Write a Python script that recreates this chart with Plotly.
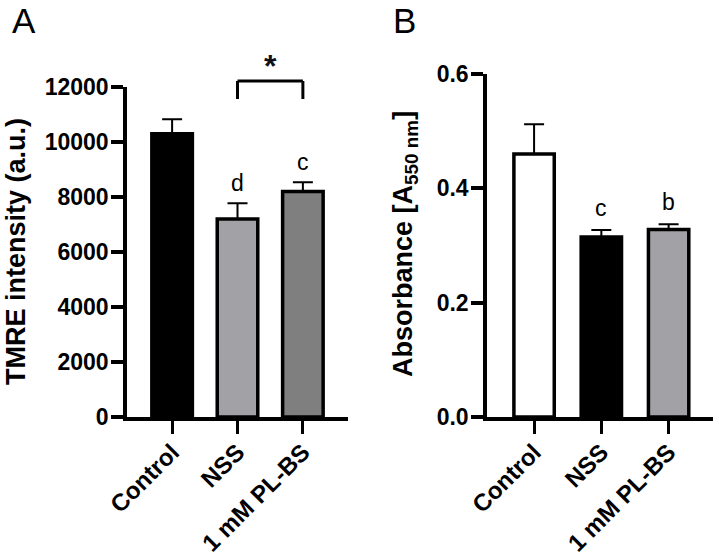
import plotly.graph_objects as go

# ---------------- data ----------------
categories = ["Control", "NSS", "1 mM PL-BS"]

tmre_values = [10300, 7200, 8200]
tmre_errors = [530, 570, 340]
tmre_letters = ["", "d", "c"]
tmre_colors = ["#000000", "#a2a2a6", "#7f7f7f"]
tmre_ticks = [0, 2000, 4000, 6000, 8000, 10000, 12000]

abs_values = [0.46, 0.315, 0.328]
abs_errors = [0.052, 0.012, 0.009]
abs_letters = ["", "c", "b"]
abs_colors = ["#ffffff", "#000000", "#a2a2a6"]
abs_ticks = [0.0, 0.2, 0.4, 0.6]

bracket_pair = ["NSS", "1 mM PL-BS"]
bracket_label = "*"

# ---------------- layout helpers ----------------
W, H = 719, 560
def px(x):
    return x / W
def py(y):
    return 1 - y / H

FONT = "Arial, Liberation Sans, Helvetica, sans-serif"
LW = 3.5

fig = go.Figure()

fig.add_trace(go.Bar(
    x=categories, y=tmre_values, xaxis="x", yaxis="y", width=0.62,
    marker=dict(color=tmre_colors, line=dict(color="black", width=LW)),
    error_y=dict(type="data", array=tmre_errors, arrayminus=[0] * len(tmre_errors),
                 symmetric=False, color="black", thickness=2, width=10),
    showlegend=False, hoverinfo="x+y",
))
fig.add_trace(go.Bar(
    x=categories, y=abs_values, xaxis="x2", yaxis="y2", width=0.60,
    marker=dict(color=abs_colors, line=dict(color="black", width=LW)),
    error_y=dict(type="data", array=abs_errors, arrayminus=[0] * len(abs_errors),
                 symmetric=False, color="black", thickness=2, width=10),
    showlegend=False, hoverinfo="x+y",
))

xcommon = dict(type="category", showline=True, linewidth=LW, linecolor="black",
               ticks="outside", ticklen=13, tickwidth=3, tickcolor="black",
               tickangle=-45, showgrid=False, zeroline=False, automargin=False,
               ticklabelstandoff=-5,
               tickfont=dict(family=FONT, size=24, color="black", weight="bold"))
ycommon = dict(showline=True, linewidth=LW, linecolor="black",
               ticks="outside", ticklen=12, tickwidth=3.5, tickcolor="black",
               showgrid=False, zeroline=False, ticklabelstandoff=-2, automargin=False,
               tickfont=dict(family=FONT, size=23, color="black", weight="bold"))

fig.update_layout(
    width=W, height=H, margin=dict(l=0, r=0, t=0, b=0, autoexpand=False),
    paper_bgcolor="white", plot_bgcolor="white",
    font=dict(family=FONT, color="black"),
    xaxis=dict(domain=[px(127), px(348)], anchor="y", range=[-0.69, 2.69], **xcommon),
    yaxis=dict(domain=[py(417), py(87)], anchor="x", range=[0, 12000],
               tickvals=tmre_ticks, ticktext=[str(t) for t in tmre_ticks], **ycommon),
    xaxis2=dict(domain=[px(487), px(713)], anchor="y2", range=[-0.70, 2.66], **xcommon),
    yaxis2=dict(domain=[py(417), py(74)], anchor="x2", range=[0, 0.6],
                tickvals=abs_ticks, ticktext=[f"{t:.1f}" for t in abs_ticks], **ycommon),
)

ann = []
# significance letters
for i, l in enumerate(tmre_letters):
    if l:
        ann.append(dict(x=categories[i], y=tmre_values[i] + tmre_errors[i], xref="x", yref="y",
                        text=l, showarrow=False, yanchor="bottom", yshift=5,
                        font=dict(family=FONT, size=23, color="black")))
for i, l in enumerate(abs_letters):
    if l:
        ann.append(dict(x=categories[i], y=abs_values[i] + abs_errors[i], xref="x2", yref="y2",
                        text=l, showarrow=False, yanchor="bottom", yshift=7,
                        font=dict(family=FONT, size=23, color="black")))

# axis titles
ann.append(dict(x=px(16), y=py(252), xref="paper", yref="paper", text="TMRE intensity (a.u.)",
                textangle=-90, showarrow=False, xanchor="center", yanchor="middle",
                font=dict(family=FONT, size=27, color="black", weight="bold")))
ann.append(dict(x=px(405), y=py(244), xref="paper", yref="paper",
                text="Absorbance [A<sub>550 nm</sub>]",
                textangle=-90, showarrow=False, xanchor="center", yanchor="middle",
                font=dict(family=FONT, size=27, color="black", weight="bold")))

# panel labels
ann.append(dict(x=px(11), y=1, xref="paper", yref="paper", text="A", showarrow=False,
                xanchor="left", yanchor="top", borderpad=0,
                font=dict(family=FONT, size=35, color="black")))
ann.append(dict(x=px(392), y=1, xref="paper", yref="paper", text="B", showarrow=False,
                xanchor="left", yanchor="top", borderpad=0,
                font=dict(family=FONT, size=35, color="black")))

# significance bracket
i0, i1 = categories.index(bracket_pair[0]), categories.index(bracket_pair[1])
y_top, y_bot = py(81), py(99)
shapes = [
    dict(type="line", xref="x", yref="paper", x0=i0, x1=i0, y0=y_bot, y1=y_top,
         line=dict(color="black", width=3)),
    dict(type="line", xref="x", yref="paper", x0=i1, x1=i1, y0=y_bot, y1=y_top,
         line=dict(color="black", width=3)),
    dict(type="line", xref="x", yref="paper", x0=i0, x1=i1, y0=y_top, y1=y_top,
         line=dict(color="black", width=3)),
]
ann.append(dict(x=(i0 + i1) / 2, y=py(66), xref="x", yref="paper", text=bracket_label,
                showarrow=False, xanchor="center", yanchor="middle",
                font=dict(family=FONT, size=32, color="#101018", weight="bold")))

fig.update_layout(annotations=ann, shapes=shapes)

fig.write_html("out.html", config={"displayModeBar": False},
               post_script="document.body.style.margin='0';")
